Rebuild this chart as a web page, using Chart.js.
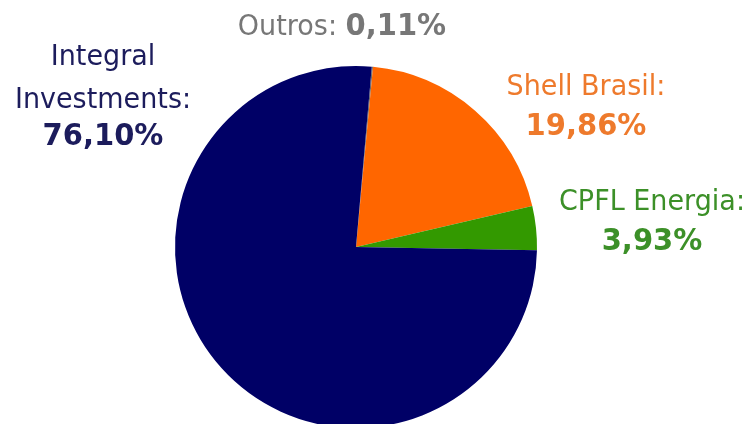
<!DOCTYPE html>
<html>
<head>
<meta charset="utf-8">
<script src="https://cdn.jsdelivr.net/npm/chart.js@4"></script>
<style>
  html, body { margin: 0; padding: 0; background: #fff; overflow: hidden; }
  #wrap { position: absolute; left: 0; top: 0; width: 749px; height: 440px; }
</style>
</head>
<body>
<div id="wrap"><canvas id="chart"></canvas></div>
<script>
// shareholders, in drawing order from 12 o'clock clockwise
const names = ["Outros", "Shell Brasil", "CPFL Energia", "Integral Investments"];
const shares = [0.11, 19.86, 3.93, 76.10];
const sliceColors = ["#6b6b6b", "#ff6600", "#339900", "#000066"];
const textColors = ["#777777", "#ee7a2c", "#3c9028", "#1c1c5c"];

const pct = (v) => v.toFixed(2).replace(".", ",") + "%";

const REG = "27px 'DejaVu Sans'";
const BOLD = "bold 29px 'DejaVu Sans'";
const STRETCH = 1.06; // source text is slightly taller than wide

// text placed around the pie: [lines, centreX, baselines, bold flags]
function labelLayout() {
  return [
    { idx: 3, lines: ["Integral", "Investments:", pct(shares[3])], cx: 103, ys: [65, 108, 145], bold: [false, false, true] },
    { idx: 1, lines: ["Shell Brasil:", pct(shares[1])], cx: 586, ys: [95, 135], bold: [false, true] },
    { idx: 2, lines: ["CPFL Energia:", pct(shares[2])], cx: 652, ys: [210, 250], bold: [false, true] },
  ];
}

function tallText(ctx, text, x, y) {
  ctx.save();
  ctx.translate(x, y);
  ctx.scale(1, STRETCH);
  ctx.fillText(text, 0, 0);
  ctx.restore();
}

const labelsPlugin = {
  id: "shareLabels",
  afterDraw(chart) {
    const ctx = chart.ctx;
    ctx.save();
    ctx.textBaseline = "alphabetic";
    ctx.textAlign = "center";
    labelLayout().forEach((lab) => {
      ctx.fillStyle = textColors[lab.idx];
      lab.lines.forEach((line, i) => {
        ctx.font = lab.bold[i] ? BOLD : REG;
        tallText(ctx, line, lab.cx, lab.ys[i]);
      });
    });
    // Outros on one line: regular name, bold value
    ctx.textAlign = "left";
    ctx.fillStyle = textColors[0];
    const a = names[0] + ": ";
    const b = pct(shares[0]);
    ctx.font = REG;
    const wa = ctx.measureText(a).width;
    ctx.font = BOLD;
    const wb = ctx.measureText(b).width;
    const x0 = 342 - (wa + wb) / 2;
    ctx.font = REG;
    tallText(ctx, a, x0, 35);
    ctx.font = BOLD;
    tallText(ctx, b, x0 + wa, 35);
    ctx.restore();
  },
};

new Chart(document.getElementById("chart"), {
  type: "pie",
  data: {
    labels: names,
    datasets: [{
      data: shares,
      backgroundColor: sliceColors,
      borderWidth: 0,
    }],
  },
  options: {
    responsive: true,
    maintainAspectRatio: false,
    animation: false,
    rotation: 5,
    layout: { padding: { top: 66, bottom: 12, left: 175, right: 212 } },
    plugins: { legend: { display: false }, tooltip: { enabled: false } },
  },
  plugins: [labelsPlugin],
});
</script>
</body>
</html>
